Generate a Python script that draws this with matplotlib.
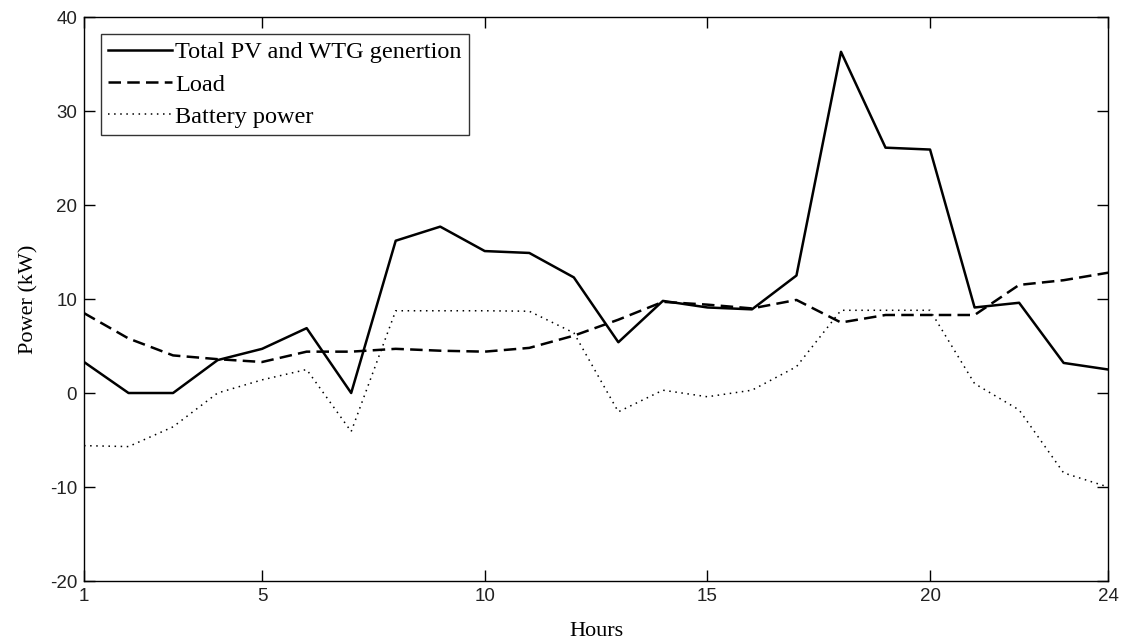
import matplotlib
matplotlib.use("Agg")
import matplotlib.pyplot as plt

hours = list(range(1, 25))
generation = [3.3, 0.0, 0.0, 3.5, 4.7, 6.9, 0.0, 16.2, 17.7, 15.1, 14.9, 12.3,
              5.4, 9.8, 9.1, 8.9, 12.5, 36.3, 26.1, 25.9, 9.1, 9.6, 3.2, 2.5]
load = [8.5, 5.8, 4.0, 3.6, 3.3, 4.4, 4.4, 4.7, 4.5, 4.4, 4.8, 6.1,
        7.8, 9.7, 9.4, 9.0, 9.9, 7.5, 8.3, 8.3, 8.3, 11.5, 12.0, 12.8]
battery = [-5.6, -5.7, -3.6, 0.0, 1.4, 2.5, -4.1, 8.75, 8.75, 8.75, 8.7, 6.4,
           -2.0, 0.3, -0.4, 0.3, 2.8, 8.8, 8.8, 8.8, 1.0, -1.8, -8.5, -10.0]

plt.rcParams['font.family'] = ['Liberation Serif', 'DejaVu Serif']
plt.rcParams['axes.unicode_minus'] = False

fig = plt.figure(figsize=(11.23, 6.42), dpi=100)
ax = fig.add_axes([0.0748, 0.095, 0.912, 0.8785])

ax.plot(hours, generation, color='black', lw=1.8, ls='-', label='Total PV and WTG genertion')
ax.plot(hours, load, color='black', lw=1.8, ls=(0, (5, 2.5)), label='Load')
ax.plot(hours, battery, color='black', lw=1.1, ls=(0, (1, 3)), label='Battery power')

ax.set_xlim(1, 24)
ax.set_ylim(-20, 40)
ax.set_xticks([1, 5, 10, 15, 20, 24])
ax.set_yticks(range(-20, 41, 10))
ax.tick_params(direction='in', length=8, top=True, right=True, labelsize=13.5, width=1, pad=5)
for lbl in ax.get_xticklabels() + ax.get_yticklabels():
    lbl.set_family(['Liberation Sans', 'DejaVu Sans'])
    lbl.set_color('#222222')
for s in ax.spines.values():
    s.set_linewidth(1.0)

ax.set_xlabel('Hours', fontsize=16, labelpad=12)
ax.set_ylabel('Power (kW)', fontsize=16, labelpad=8)

leg = ax.legend(loc='upper left', fontsize=17.5, frameon=True, fancybox=False,
                edgecolor='black', handlelength=2.6, handletextpad=0.15,
                borderpad=0.3, labelspacing=0.42, borderaxespad=0.7)
leg.get_frame().set_linewidth(1.0)

fig.savefig('out.png', dpi=100)
